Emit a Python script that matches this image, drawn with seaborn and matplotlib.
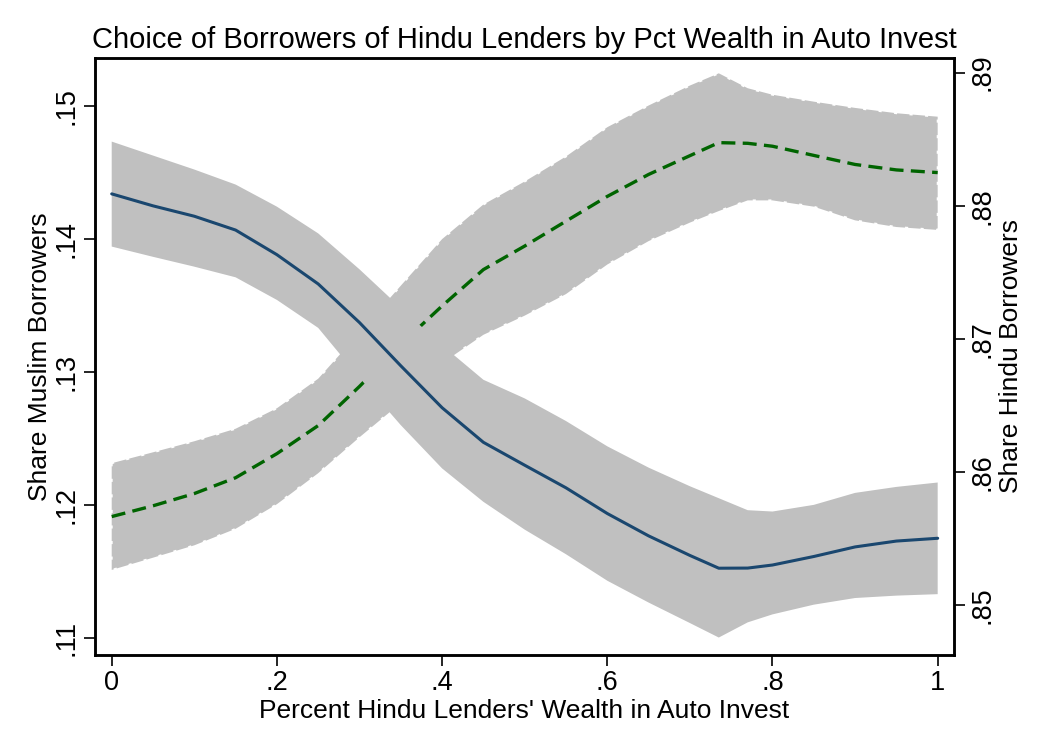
import numpy as np
import pandas as pd
import seaborn as sns
import matplotlib
matplotlib.use("Agg")
import matplotlib.pyplot as plt

# ---- data ----
x_share = [0.00, 0.05, 0.10, 0.15, 0.20, 0.25, 0.30, 0.35, 0.40, 0.45, 0.50,
           0.55, 0.60, 0.65, 0.70, 0.735, 0.77, 0.80, 0.85, 0.90, 0.95, 1.00]

muslim_mean = [0.14337, 0.14247, 0.14169, 0.14065, 0.13880, 0.13660, 0.13370, 0.13045,
               0.12730, 0.12470, 0.12298, 0.12128, 0.11935, 0.11767, 0.11620, 0.11524,
               0.11525, 0.11548, 0.11612, 0.11684, 0.11728, 0.11749]
muslim_hi = [0.14730, 0.14625, 0.14520, 0.14407, 0.14241, 0.14040, 0.13770, 0.13480,
             0.13200, 0.12940, 0.12800, 0.12630, 0.12440, 0.12280, 0.12140, 0.12050,
             0.11960, 0.11950, 0.12000, 0.12090, 0.12135, 0.12168]
muslim_lo = [0.13941, 0.13864, 0.13790, 0.13710, 0.13540, 0.13330, 0.12955, 0.12599,
             0.12274, 0.12023, 0.11814, 0.11629, 0.11430, 0.11266, 0.11112, 0.11003,
             0.11117, 0.11177, 0.11250, 0.11300, 0.11318, 0.11329]

hindu_mean = [0.85664, 0.85745, 0.85837, 0.85956, 0.86137, 0.86348, 0.86642, 0.86958,
              0.87247, 0.87520, 0.87697, 0.87884, 0.88070, 0.88235, 0.88376, 0.88474,
              0.88469, 0.88447, 0.88378, 0.88310, 0.88269, 0.88249]
hindu_hi = [0.86065, 0.86147, 0.86230, 0.86324, 0.86478, 0.86700, 0.87047, 0.87399,
            0.87749, 0.88009, 0.88182, 0.88370, 0.88590, 0.88753, 0.88903, 0.88995,
            0.88883, 0.88834, 0.88782, 0.88735, 0.88695, 0.88669]
hindu_lo = [0.85263, 0.85355, 0.85448, 0.85572, 0.85757, 0.85990, 0.86260, 0.86518,
            0.86816, 0.87030, 0.87174, 0.87336, 0.87558, 0.87734, 0.87873, 0.87960,
            0.88040, 0.88040, 0.87993, 0.87890, 0.87840, 0.87818]

x_ticks = [0, 0.2, 0.4, 0.6, 0.8, 1.0]
x_tick_labels = ["0", ".2", ".4", ".6", ".8", "1"]
muslim_ticks = [0.11, 0.12, 0.13, 0.14, 0.15]
muslim_tick_labels = [".11", ".12", ".13", ".14", ".15"]
hindu_ticks = [0.85, 0.86, 0.87, 0.88, 0.89]
hindu_tick_labels = [".85", ".86", ".87", ".88", ".89"]

title = "Choice of Borrowers of Hindu Lenders by Pct Wealth in Auto Invest"
x_label = "Percent Hindu Lenders' Wealth in Auto Invest"
muslim_label = "Share Muslim Borrowers"
hindu_label = "Share Hindu Borrowers"

df = pd.DataFrame({"x": x_share, "m": muslim_mean, "mlo": muslim_lo, "mhi": muslim_hi,
                   "h": hindu_mean, "hlo": hindu_lo, "hhi": hindu_hi})

# ---- style ----
sns.set_theme(style="white")
plt.rcParams["font.family"] = ["Liberation Sans", "DejaVu Sans"]

BAND = "#c0c0c0"
BLUE = "#1a476f"
GREEN = "#006400"

fig = plt.figure(figsize=(10.42, 7.38), dpi=100)
axH = fig.add_axes([0.0912, 0.1125, 0.8243, 0.8089])
axM = axH.twinx()

# Hindu series (drawn underneath) on axH, displayed on the right
axH.fill_between(df["x"], df["hlo"], df["hhi"], facecolor=BAND, edgecolor="white",
                 linestyle=(0, (1.6, 6.4)), linewidth=1.4, zorder=1)
sns.lineplot(data=df, x="x", y="h", ax=axH, color=GREEN, linewidth=2.4,
             linestyle=(0, (4.2, 2.2)), zorder=2)

# Muslim series on top, displayed on the left
axM.fill_between(df["x"], df["mlo"], df["mhi"], facecolor=BAND, edgecolor="none",
                 linewidth=0, zorder=1)
sns.lineplot(data=df, x="x", y="m", ax=axM, color=BLUE, linewidth=2.2, zorder=2)

# swap sides
axM.yaxis.tick_left()
axM.yaxis.set_label_position("left")
axH.yaxis.tick_right()
axH.yaxis.set_label_position("right")

axH.set_xlim(-0.0202, 1.0197)
axH.set_ylim(0.84624, 0.8911)
axM.set_ylim(0.10872, 0.15358)

axH.set_xticks(x_ticks)
axH.set_xticklabels(x_tick_labels)
axH.set_yticks(hindu_ticks)
axH.set_yticklabels(hindu_tick_labels, rotation=90, va="center")
axM.set_yticks(muslim_ticks)
axM.set_yticklabels(muslim_tick_labels, rotation=90, va="center")

for ax in (axH, axM):
    ax.tick_params(axis="both", direction="out", length=8, width=1.2, color="black",
                   labelsize=19.5, pad=3, labelcolor="black")
    for s in ax.spines.values():
        s.set_color("black")
        s.set_linewidth(1.8)
axH.tick_params(axis="y", left=False, right=True, labelleft=False, labelright=True)
axM.tick_params(axis="y", left=True, right=False, labelleft=True, labelright=False)
axH.tick_params(axis="x", bottom=True)

axH.set_xlabel(x_label, fontsize=19, color="black", labelpad=2)
axH.set_ylabel(hindu_label, fontsize=19, color="black", labelpad=3)
axM.set_ylabel(muslim_label, fontsize=19, color="black", labelpad=1)
axM.set_xlabel("")
axH.set_title(title, fontsize=21, color="black", pad=7)

fig.savefig("out.png", dpi=100, facecolor="white")
